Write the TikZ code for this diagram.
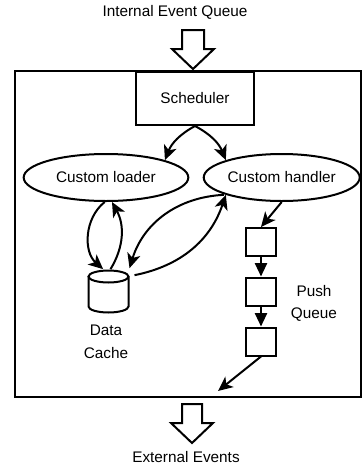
\documentclass[tikz,border=0pt]{standalone}
\usepackage{fontspec}
\setmainfont{Liberation Sans}
\usetikzlibrary{shapes.geometric}
\usetikzlibrary{arrows.meta}

\tikzset{
  lbl/.style={font=\fontsize{11.5}{17}\selectfont, inner sep=0.75pt, align=center},
  procbox/.style={draw, rectangle, minimum width=88.5pt, minimum height=39.75pt, lbl},
  ellbox/.style={draw, ellipse, minimum height=35.25pt, inner sep=0pt, lbl},
  qbox/.style={draw, rectangle, minimum width=22.5pt, minimum height=21pt, inner sep=0pt},
  store/.style={rectangle, minimum width=30pt, minimum height=32pt, inner sep=0pt},
  flow/.style={-{Stealth[length=11pt,width=10pt,inset=3pt]}},
  qflow/.style={-{Triangle[length=10pt,width=9pt]}},
}

\begin{document}
\begin{tikzpicture}[x=0.75pt,y=0.75pt,yscale=-1,xscale=1,line width=1.5pt]
\useasboundingbox (0,0) rectangle (362,465);

%Shape: Rectangle (outer frame)
\draw (15,71) rectangle (360.5,397);
%Shape: Block Arrow (in)
\draw (182,30) -- (204,30) -- (204,49) -- (214,49) -- (193,69) -- (172,49) -- (182,49) -- cycle;
%Shape: Block Arrow (out)
\draw (182,404) -- (202,404) -- (202,423) -- (213,423) -- (192,443) -- (171,423) -- (182,423) -- cycle;

%Shape: Rectangle
\node[procbox] (sched) at (195,98.5) {Scheduler};
%Shape: Ellipse
\node[ellbox, minimum width=123.5pt] (loader) at (106,177.5) {Custom loader};
%Shape: Ellipse
\node[ellbox, minimum width=117pt] (handler) at (281.7,177.5) {Custom handler};
%Shape: Can
\node[store] (cache) at (108.5,291.5) {};
\draw (108.5,276.5) ellipse (20 and 6);
\draw (88.5,276.5) -- (88.5,306.5) arc[start angle=180, end angle=0, x radius=20, y radius=6] -- (128.5,276.5);
%Shape: Square
\node[qbox] (q1) at (261,242) {};
\node[qbox] (q2) at (261,291.5) {};
\node[qbox] (q3) at (261,341.5) {};
\coordinate (exit) at (218,391);

% Text Node
\node[lbl] (inq) at (175,12) {Internal Event Queue};
% Text Node
\node[lbl] (ext) at (186,457) {External Events};
% Text Node
\node[lbl] (cachelbl) at (106,342) {Data\\Cache};
% Text Node
\node[lbl] (pushlbl) at (314,303.5) {Push\\Queue};

%Curve Lines
\draw[flow] (sched.south) to[bend left=20] (loader.north east);
\draw[flow] (sched.south) to[bend right=20] (handler.north west);
\draw[flow] ([xshift=-1pt]loader.south) to[bend left=50] ([xshift=-4pt]cache.north);
\draw[flow] ([xshift=1.5pt]cache.north) to[bend left=30] ([xshift=4.5pt]loader.south);
\draw[flow] ([shift={(5,6)}]cache.north east) to[bend left=30] (handler.south west);
\draw[flow] ([shift={(-2,0)}]handler.south west) to[bend left=35] ([shift={(0,-1)}]cache.north east);
%Straight Lines
\draw[flow] (handler.south) -- (q1.north);
\draw[qflow] (q1) -- (q2);
\draw[qflow] (q2) -- (q3);
\draw[flow] (q3.south) -- (exit);
\end{tikzpicture}
\end{document}
